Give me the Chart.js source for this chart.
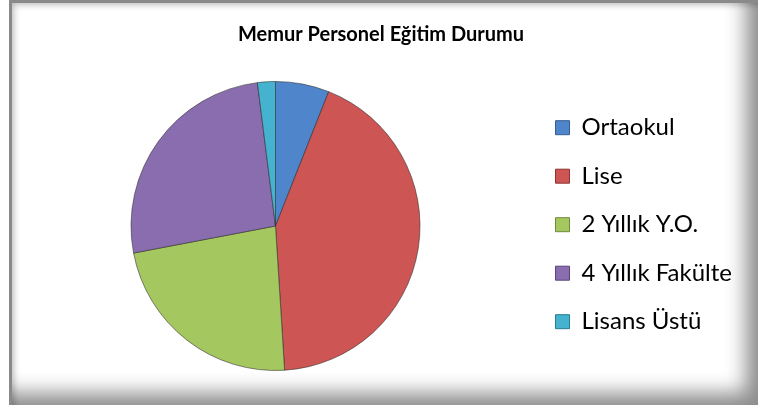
<!DOCTYPE html>
<html>
<head>
<meta charset="utf-8">
<script src="https://cdn.jsdelivr.net/npm/chart.js@4"></script>
<style>
  html, body { margin: 0; padding: 0; background: #fff; }
  #frame {
    position: absolute; left: 9px; top: 0; width: 746px; height: 402px;
    border-left: 3px solid #8a8a8a; border-top: 3px solid #8a8a8a;
    box-shadow: inset -16px -16px 20px -4px rgba(0,0,0,0.45), inset 5px 5px 6px -3px rgba(0,0,0,0.25);
    background: #fff;
  }
  #wrap { position: absolute; left: 0; top: 0; width: 758px; height: 405px; }
</style>
</head>
<body>
<div id="frame"></div>
<div id="wrap"><canvas id="pieChart" width="758" height="405"></canvas></div>
<script>
const Labels = ['Ortaokul', 'Lise', '2 Yıllık Y.O.', '4 Yıllık Fakülte', 'Lisans Üstü'];
const Values = [6, 43, 23, 26, 2];
const SliceColor = ['#4F86CB', '#CD5553', '#A5C760', '#8A6DAF', '#45B3CF'];
const SliceEdge = ['#345E93', '#8E3432', '#6F8A3A', '#5B4578', '#2B7C91'];

// radial shading so the slices look a bit bevelled
const SliceFill = (context) => {
    const chart = context.chart;
    const i = context.dataIndex;
    const arc = chart.getDatasetMeta(0).data[i];
    if (!arc || !arc.outerRadius) return SliceColor[i];
    const g = chart.ctx.createRadialGradient(arc.x, arc.y, 0, arc.x, arc.y, arc.outerRadius);
    g.addColorStop(0, SliceColor[i]);
    g.addColorStop(0.88, SliceColor[i]);
    g.addColorStop(1, SliceEdge[i]);
    return g;
}

let elem = document.getElementById('pieChart');
let ctx = elem.getContext('2d');
const pieChart = new Chart(ctx, {
    type: 'pie',
    data: {
        labels: Labels,
        datasets: [{
            data: Values,
            backgroundColor: SliceFill,
            borderColor: 'rgba(40,40,40,0.55)',
            borderWidth: 1
        }]
    },
    options: {
        responsive: false,
        animation: false,
        layout: {
            padding: { left: 20, right: 16, top: 0, bottom: 34 }
        },
        plugins: {
            title: {
                display: true,
                text: 'Memur Personel Eğitim Durumu',
                color: 'black',
                font: { family: 'Lato', size: 20, weight: 'bold' },
                padding: { top: 23, bottom: 34 }
            },
            legend: {
                position: 'right',
                title: {
                    // empty title, only used to push the items down
                    display: true,
                    text: ' ',
                    font: { size: 12 },
                    padding: { top: 64, bottom: 0 }
                },
                labels: {
                    color: 'black',
                    font: { family: 'Lato', size: 24 },
                    boxWidth: 14,
                    boxHeight: 14,
                    padding: 24.5,
                    generateLabels: (chart) => Labels.map((l, i) => ({
                        text: l,
                        fillStyle: SliceColor[i],
                        strokeStyle: SliceEdge[i],
                        fontColor: 'black',
                        lineWidth: 1,
                        index: i
                    }))
                }
            },
            tooltip: { enabled: false }
        }
    }
});
</script>
</body>
</html>
